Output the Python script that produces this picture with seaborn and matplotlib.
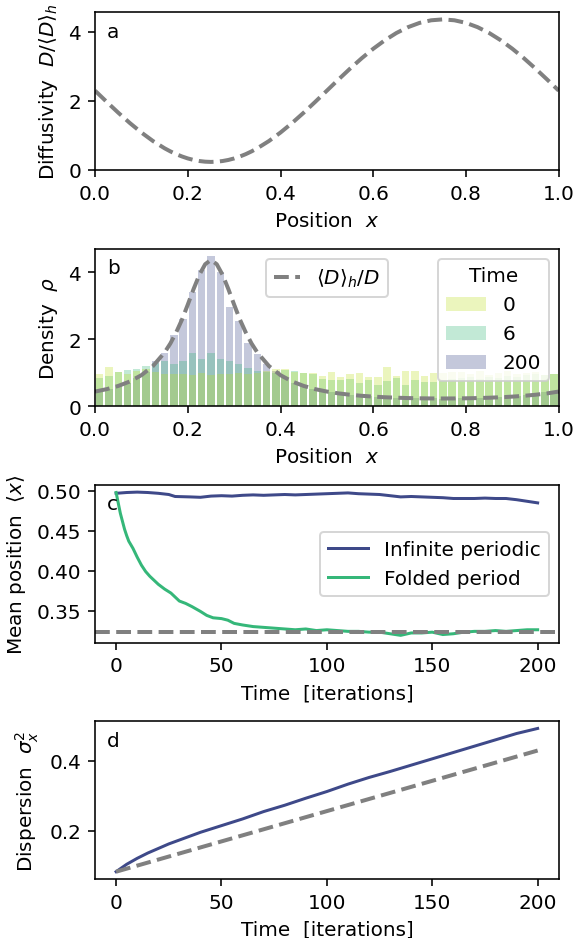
import numpy as np
import pandas as pd
import matplotlib
matplotlib.use("Agg")
import matplotlib.pyplot as plt
import seaborn as sns

# panel a / b : position grid and normalised diffusivity D/<D>_h
POS_X = [0.0, 0.025, 0.05, 0.075, 0.1, 0.125, 0.15, 0.1625, 0.175, 0.1875,
         0.2, 0.2125, 0.225, 0.2375, 0.25, 0.2625, 0.275, 0.2875, 0.3, 0.3125,
         0.325, 0.3375, 0.35, 0.375, 0.4, 0.425, 0.45, 0.475, 0.5, 0.525,
         0.55, 0.575, 0.6, 0.625, 0.65, 0.675, 0.7, 0.725, 0.75, 0.775,
         0.8, 0.825, 0.85, 0.875, 0.9, 0.925, 0.95, 0.975, 1.0]
DIFFUSIVITY = [2.294, 1.971, 1.656, 1.357, 1.081, 0.834, 0.624, 0.534, 0.454, 0.387,
               0.330, 0.286, 0.255, 0.236, 0.229, 0.236, 0.255, 0.286, 0.330, 0.387,
               0.454, 0.534, 0.624, 0.834, 1.081, 1.357, 1.656, 1.971, 2.294, 2.617,
               2.932, 3.232, 3.508, 3.754, 3.965, 4.134, 4.258, 4.333, 4.359, 4.333,
               4.258, 4.134, 3.965, 3.754, 3.508, 3.232, 2.932, 2.617, 2.294]

# panel b : density histograms (50 bins on [0, 1])
N_BINS = 50
TIMES = ["0", "6", "200"]
RHO_T0 = [0.97, 1.18, 1.03, 0.97, 1.04, 1.10, 1.02, 0.96, 0.95, 0.97,
          0.94, 0.98, 0.93, 0.97, 0.95, 0.99, 0.96, 1.00, 1.04, 1.12,
          1.10, 1.02, 0.98, 0.99, 0.91, 1.03, 0.88, 0.96, 1.00, 0.88,
          0.88, 1.16, 0.91, 1.06, 1.05, 0.91, 0.98, 1.00, 1.01, 1.03,
          0.97, 1.05, 0.92, 1.00, 1.04, 0.95, 0.99, 1.02, 0.94, 0.97]
RHO_T6 = [0.85, 0.91, 1.03, 1.09, 1.10, 1.20, 1.30, 1.36, 1.27, 1.36,
          1.58, 1.42, 1.58, 1.42, 1.36, 1.25, 1.15, 1.05, 1.02, 1.00,
          1.08, 1.05, 0.98, 0.97, 0.81, 0.78, 0.78, 0.81, 0.68, 0.78,
          0.64, 0.74, 0.84, 0.64, 0.78, 0.72, 0.72, 0.76, 0.80, 0.85,
          0.86, 0.82, 0.88, 0.84, 0.90, 0.87, 0.92, 0.95, 0.93, 0.97]
RHO_T200 = [0.45, 0.52, 0.60, 0.70, 0.85, 1.02, 1.36, 1.58, 2.12, 2.60,
            3.42, 4.06, 4.48, 4.00, 2.95, 2.55, 1.90, 1.55, 1.27, 1.05,
            0.85, 0.70, 0.60, 0.52, 0.46, 0.41, 0.37, 0.34, 0.32, 0.29,
            0.28, 0.26, 0.25, 0.24, 0.24, 0.23, 0.23, 0.22, 0.23, 0.23,
            0.24, 0.25, 0.26, 0.27, 0.29, 0.31, 0.34, 0.37, 0.41, 0.46]

# panel c : mean position
T_INF = [0, 5, 10, 15, 20, 25, 28, 35, 40, 45, 50, 55, 60, 65, 70, 75, 80, 85, 90,
         95, 100, 105, 110, 115, 120, 125, 130, 135, 140, 145, 150, 155, 160, 165,
         170, 175, 180, 185, 190, 195, 200]
MEAN_INF = [0.497, 0.498, 0.4985, 0.498, 0.497, 0.4955, 0.493, 0.4925, 0.492, 0.4935,
            0.494, 0.4935, 0.4945, 0.495, 0.4945, 0.495, 0.4955, 0.495, 0.4955, 0.496,
            0.4965, 0.497, 0.4975, 0.4965, 0.496, 0.4955, 0.494, 0.4925, 0.493, 0.4925,
            0.492, 0.4915, 0.4905, 0.4905, 0.4905, 0.491, 0.4905, 0.4905, 0.489, 0.487,
            0.485]
T_FOLD = [0, 1, 2, 3, 4, 5, 6, 8, 10, 12, 14, 16, 18, 20, 23, 26, 30, 33, 36, 40,
          43, 46, 50, 53, 56, 60, 65, 70, 75, 80, 85, 90, 95, 100, 105, 110, 115,
          120, 125, 130, 135, 140, 145, 150, 155, 160, 165, 170, 175, 180, 185,
          190, 195, 200]
MEAN_FOLD = [0.498, 0.485, 0.472, 0.462, 0.452, 0.444, 0.437, 0.428, 0.417, 0.407,
             0.399, 0.393, 0.388, 0.383, 0.377, 0.372, 0.362, 0.359, 0.355, 0.349,
             0.344, 0.341, 0.340, 0.338, 0.334, 0.332, 0.330, 0.329, 0.328, 0.327,
             0.326, 0.327, 0.325, 0.326, 0.325, 0.324, 0.324, 0.323, 0.323, 0.321,
             0.319, 0.322, 0.322, 0.323, 0.320, 0.321, 0.323, 0.324, 0.324, 0.325,
             0.324, 0.325, 0.326, 0.326]
MEAN_EQUIL = 0.3227

# panel d : dispersion
T_DISP = [0, 5, 10, 15, 20, 25, 30, 40, 50, 60, 70, 80, 90, 100, 110, 120, 130,
          140, 150, 160, 170, 180, 190, 200]
DISP = [0.084, 0.105, 0.122, 0.137, 0.150, 0.163, 0.174, 0.196, 0.215, 0.234,
        0.255, 0.273, 0.293, 0.312, 0.333, 0.352, 0.369, 0.387, 0.405, 0.423,
        0.441, 0.459, 0.477, 0.4914]
T_DISP_REF = [0, 200]
DISP_REF = [0.084, 0.4286]

YELLOW = "#bddf26"
GREEN = "#35b779"
BLUE = "#3e4989"
plt.rcParams["font.family"] = ["DejaVu Sans"]

fig, axes = plt.subplots(4, 1, figsize=(4, 6.52), dpi=144)
fig.subplots_adjust(left=0.165, right=0.97, top=0.986, bottom=0.063, hspace=0.5)

# a
ax = axes[0]
sns.lineplot(x=POS_X, y=DIFFUSIVITY, ax=ax, color="gray", lw=2, linestyle="--")
ax.set_xlim(0, 1)
ax.set_ylim(bottom=0)
ax.set_yticks([0, 2, 4])
ax.set_xlabel(r"Position  $x$")
ax.set_ylabel(r"Diffusivity  $D/\langle D\rangle_h$")

# b
ax = axes[1]
centers = np.linspace(0, 1, N_BINS + 1)[:-1] + 0.5 / N_BINS
hist_df = pd.DataFrame({
    "x": np.tile(centers, 3),
    "rho": RHO_T0 + RHO_T6 + RHO_T200,
    "Time": np.repeat(TIMES, N_BINS),
})
sns.histplot(data=hist_df, x="x", weights="rho", hue="Time", hue_order=TIMES,
             palette=[YELLOW, GREEN, BLUE], bins=N_BINS, binrange=(0, 1),
             stat="count", multiple="layer", shrink=0.8, alpha=0.3,
             edgecolor="none", linewidth=0, ax=ax)
sns.move_legend(ax, "upper right", title="Time")
time_leg = ax.legend_
line, = ax.plot(POS_X, 1 / np.array(DIFFUSIVITY), "--", color="gray", lw=2,
                label=r"$\langle D\rangle_h/D$")
ax.legend(handles=[line], loc="upper center", handlelength=1.3)
ax.add_artist(time_leg)
ax.set_xlim(0, 1)
ax.set_xlabel(r"Position  $x$")
ax.set_ylabel(r"Density  $\rho$")

# c
ax = axes[2]
sns.lineplot(x=T_INF, y=MEAN_INF, ax=ax, color=BLUE, lw=1.5, label="Infinite periodic")
sns.lineplot(x=T_FOLD, y=MEAN_FOLD, ax=ax, color=GREEN, lw=1.5, label="Folded period")
ax.axhline(MEAN_EQUIL, color="gray", ls="--", lw=2)
ax.legend(loc="center right")
ax.set_yticks([0.35, 0.40, 0.45, 0.50])
ax.set_xticks([0, 50, 100, 150, 200])
ax.set_xlabel("Time  [iterations]")
ax.set_ylabel(r"Mean position  $\langle x\rangle$")

# d
ax = axes[3]
sns.lineplot(x=T_DISP, y=DISP, ax=ax, color=BLUE, lw=1.5)
sns.lineplot(x=T_DISP_REF, y=DISP_REF, ax=ax, color="gray", lw=2, linestyle="--")
ax.set_yticks([0.2, 0.4])
ax.set_xticks([0, 50, 100, 150, 200])
ax.set_xlabel("Time  [iterations]")
ax.set_ylabel(r"Dispersion  $\sigma_x^2$")

for ax, letter in zip(axes, "abcd"):
    ax.text(0.025, 0.88, letter, transform=ax.transAxes, va="center", ha="left")

fig.savefig("out.png", dpi=144)
